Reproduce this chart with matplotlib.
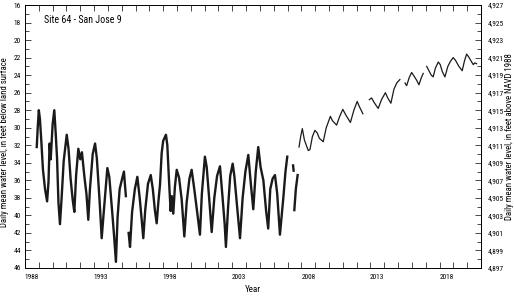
import numpy as np
import matplotlib
matplotlib.use("Agg")
import matplotlib.pyplot as plt
from matplotlib.ticker import MultipleLocator, FixedLocator, NullFormatter

plt.rcParams['font.family'] = ['Roboto Condensed', 'DejaVu Sans']

nan = np.nan

# 1988-2007 record (depth below land surface, ft)
yr_early = [1988.85, 1988.92, 1989.00, 1989.08, 1989.18, 1989.30, 1989.45, 1989.60, 1989.70, 1989.78,
            1989.86, 1990.00, 1990.12, 1990.22, 1990.32, 1990.42, 1990.53, 1990.65, 1990.80, 1991.02,
            1991.15, 1991.30, 1991.45, 1991.57, 1991.70, 1991.86, 1992.00, 1992.12, 1992.30, 1992.45,
            1992.58, 1992.70, 1992.90, 1993.07, 1993.20, 1993.40, 1993.55, 1993.70, 1993.96, 1994.10,
            1994.30, 1994.45, 1994.58, 1994.70, 1994.85, 1995.00, 1995.16, 1995.30, 1995.40, 1995.50,
            1995.60, 1995.75, 1995.95, 1996.13, 1996.30, 1996.45, 1996.56, 1996.70, 1996.90, 1997.10,
            1997.25, 1997.40, 1997.53, 1997.65, 1997.77, 1997.89, 1998.00, 1998.20, 1998.30, 1998.44,
            1998.54, 1998.62, 1998.73, 1998.85, 1998.98, 1999.15, 1999.34, 1999.53, 1999.70, 1999.90,
            2000.06, 2000.25, 2000.45, 2000.66, 2000.80, 2001.02, 2001.15, 2001.35, 2001.51, 2001.70,
            2001.90, 2002.11, 2002.30, 2002.45, 2002.54, 2002.70, 2002.85, 2003.03, 2003.15, 2003.35,
            2003.56, 2003.75, 2003.95, 2004.16, 2004.35, 2004.52, 2004.70, 2004.88, 2005.05, 2005.25,
            2005.45, 2005.60, 2005.75, 2005.92, 2006.09, 2006.25, 2006.45, 2006.70, 2006.85, 2006.98,
            2007.05, 2007.40, 2007.44, 2007.47, 2007.49, 2007.60, 2007.73]
depth_early = [32.2, 30.0, 28.0, 29.0, 31.5, 34.8, 37.0, 38.4, 36.2, 31.8,
               33.6, 29.6, 28.0, 30.6, 33.5, 38.5, 41.0, 38.0, 33.8, 30.8,
               32.4, 35.8, 38.2, 39.6, 35.4, 32.4, 33.6, 32.8, 35.6, 37.6,
               40.5, 37.0, 33.0, 31.8, 33.5, 38.4, 42.6, 39.6, 34.6, 35.6,
               39.4, 42.4, 45.3, 40.2, 37.0, 36.0, 35.0, 37.8, nan, 42.0,
               43.6, 39.6, 37.0, 35.6, 38.0, 40.6, 42.6, 39.4, 36.4, 35.4,
               37.0, 39.4, 40.9, 38.5, 36.5, 32.9, 31.5, 30.8, 32.0, 36.6,
               39.5, 37.8, 39.8, 36.7, 34.8, 35.7, 38.2, 42.4, 38.5, 35.8,
               34.8, 37.0, 39.5, 42.2, 37.5, 33.3, 34.5, 38.5, 41.9, 38.0,
               35.5, 34.4, 38.0, 41.0, 43.6, 39.0, 35.5, 34.1, 35.5, 39.0,
               42.6, 38.0, 35.0, 33.1, 36.5, 39.3, 35.0, 32.2, 34.5, 36.0,
               39.5, 41.5, 37.0, 35.8, 35.4, 37.5, 42.2, 37.9, 35.0, 33.3,
               nan, 34.3, 34.9, nan, 39.4, 37.0, 35.4]

# 2007-2020 record
yr_late = [2007.83, 2007.95, 2008.07, 2008.22, 2008.50, 2008.62, 2008.80, 2008.98, 2009.15, 2009.30,
           2009.58, 2009.80, 2010.10, 2010.25, 2010.55, 2010.75, 2011.00, 2011.20, 2011.55, 2011.80,
           2012.04, 2012.20, 2012.45, 2012.60, 2012.92, 2013.08, 2013.30, 2013.56, 2013.80, 2014.08,
           2014.25, 2014.48, 2014.70, 2014.90, 2015.13, 2015.30, 2015.50, 2015.62, 2015.80, 2015.98,
           2016.15, 2016.35, 2016.51, 2016.68, 2016.82, 2016.95, 2017.07, 2017.20, 2017.40, 2017.54,
           2017.70, 2017.91, 2018.05, 2018.20, 2018.39, 2018.60, 2018.80, 2018.99, 2019.15, 2019.40,
           2019.64, 2019.80, 2019.96, 2020.10, 2020.25, 2020.44, 2020.55, 2020.68]
depth_late = [32.2, 31.0, 30.1, 31.4, 32.6, 32.5, 31.0, 30.3, 30.6, 31.2,
              31.6, 30.0, 28.7, 29.2, 29.7, 28.8, 27.9, 28.5, 29.4, 28.0,
              27.0, 27.6, 28.4, nan, 26.8, 26.6, 27.2, 27.8, 26.8, 26.0,
              26.6, 27.2, 25.6, 24.9, 24.5, nan, 24.9, 25.2, 24.3, 23.7,
              24.1, 24.6, 25.1, 24.3, 23.8, nan, 23.0, 23.4, 24.0, 24.2,
              23.2, 22.5, 22.8, 23.6, 24.2, 23.0, 22.4, 22.0, 22.3, 23.0,
              23.5, 22.4, 21.6, 21.9, 22.3, 22.8, 22.6, 22.7]

year_labels = ['1988', '1993', '1998', '2003', '2008', '2013', '2018']
datum = 4943  # land surface altitude, ft above NAVD 1988

fig = plt.figure(figsize=(5.14, 2.96), dpi=100)
ax = fig.add_axes([25/514, 1 - 268/296, 456/514, 263/296])

ax.plot(yr_early, depth_early, color='#1a1a1a', lw=1.7, solid_joinstyle='round')
ax.plot(yr_late, depth_late, color='#1a1a1a', lw=0.9, solid_joinstyle='round')

ax.set_xlim(1988, 2021)
ax.set_ylim(46, 16)

# year ticks at year boundaries, labels centred on the year
ax.xaxis.set_major_locator(MultipleLocator(1))
ax.xaxis.set_major_formatter(NullFormatter())
ax.xaxis.set_minor_locator(FixedLocator([int(s) + 0.5 for s in year_labels]))
ax.set_xticklabels(year_labels, minor=True)
ax.tick_params(axis='x', which='minor', length=0, pad=4)

ax.yaxis.set_major_locator(MultipleLocator(2))
ax.yaxis.set_minor_locator(MultipleLocator(1))

ax.tick_params(which='both', direction='in', labelsize=5.3, width=0.5, top=True)
ax.tick_params(which='major', length=4)
ax.tick_params(axis='y', which='minor', length=3)
ax.tick_params(axis='y', pad=3)

for sp in ax.spines.values():
    sp.set_linewidth(0.7)

sec = ax.secondary_yaxis('right', functions=(lambda d: datum - d, lambda e: datum - e))
sec.yaxis.set_major_locator(FixedLocator(list(range(4897, 4928, 2))))
sec.yaxis.set_minor_locator(FixedLocator(list(range(4897, 4928, 1))))
sec.yaxis.set_major_formatter(plt.FuncFormatter(lambda v, p: f"{int(round(v)):,}"))
sec.tick_params(which='both', direction='in', labelsize=5.3, width=0.5, pad=5)
sec.tick_params(which='major', length=4)
sec.tick_params(which='minor', length=3)
sec.spines['right'].set_linewidth(0.7)

ax.set_xlabel('Year', fontsize=6.5, labelpad=3)
ax.set_ylabel('Daily mean water level, in feet below land surface', fontsize=6.3)
ax.yaxis.set_label_coords(-0.034, 0.48)
sec.set_ylabel('Daily mean water level, in feet above NAVD 1988', fontsize=6.3, rotation=90)
sec.yaxis.set_label_coords(1.052, 0.5, transform=ax.transAxes)

ax.text(0.042, 0.943, 'Site 64 - San Jose 9', transform=ax.transAxes, fontsize=7.2, va='center', ha='left')

fig.savefig('out.png', dpi=100)
